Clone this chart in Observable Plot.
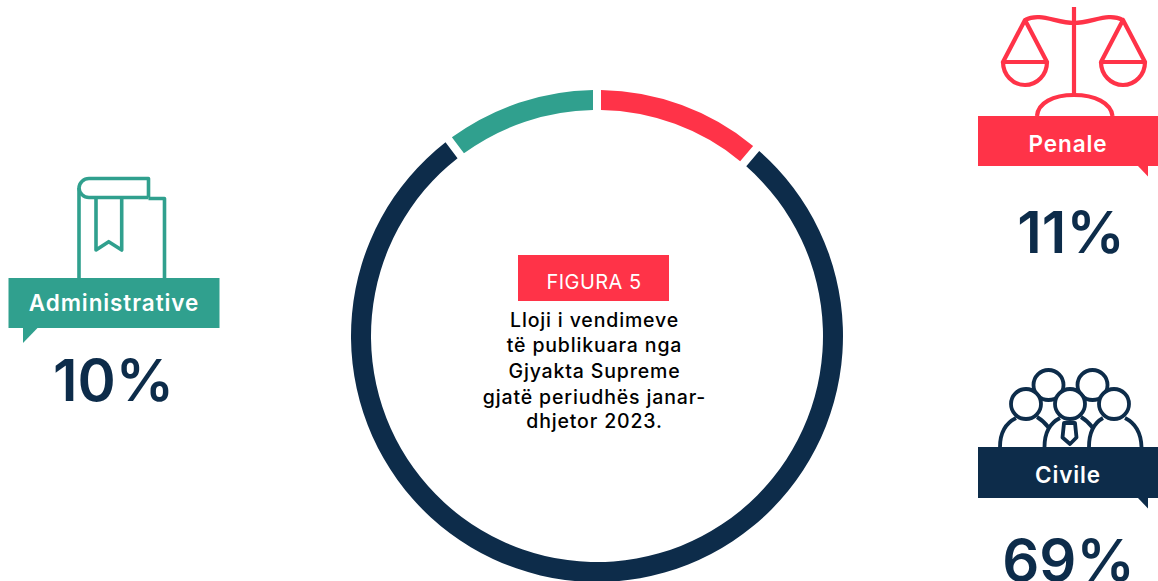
<!DOCTYPE html>
<html lang="sq">
<head>
<meta charset="utf-8">
<script src="https://cdn.jsdelivr.net/npm/d3@7"></script>
<script src="https://cdn.jsdelivr.net/npm/@observablehq/plot@0.6"></script>
<style>html,body{margin:0;padding:0;background:#fff;overflow:hidden}svg{display:block}
.banner text{letter-spacing:.9px}.body text{letter-spacing:.85px}.tag text{letter-spacing:.45px}</style>
</head>
<body>
<div id="chart"></div>
<script>
// Data
const categories = ["Penale", "Civile", "Administrative"];
const printedShares = ["11%", "69%", "10%"];       // as printed on the chart
const ringShares = [11.2, 78.5, 10.3];             // as drawn by the ring (angles)
const figureTag = "FIGURA 5";
const figureTitle = ["Lloji i vendimeve", "të publikuara nga", "Gjyakta Supreme", "gjatë periudhës janar-", "dhjetor 2023."];

// Styles
const RED = "#ff3348", NAVY = "#0d2c4a", TEAL = "#30a08e";
const colors = [RED, NAVY, TEAL];
const FONT = "Inter, 'Open Sans', sans-serif";

// Layout
const ring = {cx: 597, cy: 336, outer: 246, inner: 226, gap: 8};
const banners = [
  {x1: 978, x2: 1158, y1: 116, y2: 166, tail: [[1138,166],[1148,176.5],[1148,166]], tx: 1067.5, ty: 151.5, px: 1070.5, py: 252},
  {x1: 978, x2: 1158, y1: 447, y2: 498, tail: [[1138,498],[1148,508.5],[1148,498]], tx: 1067.5, ty: 482.5, px: 1068, py: 580},
  {x1: 8.5, x2: 219.5, y1: 278, y2: 328, tail: [[23,328],[37.5,328],[23,343]], tx: 113.5, ty: 310, px: 113, py: 400}
];
const rows = categories.map((name, i) => ({name, printed: printedShares[i], color: colors[i], ...banners[i]}));

const scaleIcon = [
  "M1074 7V95",
  "M1025 20C1040 12 1056 23 1074 23C1092 23 1108 12 1123 20",
  "M1025 20L1003 62H1047Z",
  "M1003 62A22 23 0 0 0 1047 62",
  "M1123 20L1101 62H1145Z",
  "M1101 62A22 23 0 0 0 1145 62",
  "M1037 116C1038 103 1053 95 1074 95C1095 95 1111 103 1112.5 116"
];
const bookIcon = [
  "M148.5 197.5V178.5H89A10 10 0 0 0 79 188V278",
  "M148.5 197.5H89A10 10 0 0 1 79 188",
  "M148.5 198.5H164.5V278",
  "M96 198V250L108.7 241.7L121.7 250V198"
];
const peopleBack = [[1048.5,385],[1092.5,385]];
const peopleFront = [[1026,404],[1070,404],[1114,404]];
const peopleIcon = [
  "M1000 447C1000 432 1006 423 1016 418",
  "M1037 417C1042 420 1046 424 1049 428",
  "M1044.5 447C1044.5 432 1050 423 1060 418",
  "M1081 417C1086 420 1090 424 1093 428",
  "M1089 447C1089 432 1094 423 1103 418",
  "M1125 418C1135 423 1141 432 1141.5 447",
  "M1064 423L1062.5 437.5L1070 444L1076.5 437.5L1075 423Z"
];

function iconMark(paths, color, width = 3.2, circles = []) {
  return (index, {x, y}) => {
    const g = d3.create("svg:g").attr("fill", "none").attr("stroke", color)
      .attr("stroke-width", width).attr("stroke-linejoin", "round");
    g.selectAll("path").data(paths).join("path").attr("d", d => d);
    g.selectAll("circle").data(circles).join("circle")
      .attr("cx", d => x(d[0])).attr("cy", d => y(d[1])).attr("r", 15).attr("fill", "#fff");
    return g.node();
  };
}

function ringMark(index, {x, y}) {
  const pie = d3.pie().sort(null)(ringShares);
  const arc = d3.arc().innerRadius(ring.inner).outerRadius(ring.outer)
    .padRadius(ring.outer).padAngle(ring.gap / ring.outer);
  const g = d3.create("svg:g").attr("transform", `translate(${x(ring.cx)},${y(ring.cy)})`);
  g.selectAll("path").data(pie).join("path").attr("d", arc).attr("fill", (d, i) => colors[i]);
  return g.node();
}

const titleRows = figureTitle.map((line, i) => ({line, y: [326, 351, 377, 403, 427][i]}));

const chart = Plot.plot({
  width: 1158, height: 581,
  margin: 0,
  style: {background: "#fff", fontFamily: FONT},
  x: {domain: [0, 1158], range: [0, 1158], axis: null},
  y: {domain: [0, 581], range: [0, 581], axis: null},
  marks: [
    ringMark,
    // icons sit behind the banners
    iconMark(scaleIcon, RED, 4.2),
    iconMark(bookIcon, TEAL, 3.6),
    iconMark([], NAVY, 3.8, peopleBack),
    iconMark(peopleIcon, NAVY, 3.8, peopleFront),
    // banners
    Plot.rect(rows, {x1: "x1", x2: "x2", y1: "y1", y2: "y2", fill: "color"}),
    (index, {x, y}) => {
      const g = d3.create("svg:g");
      g.selectAll("path").data(rows).join("path")
        .attr("fill", d => d.color)
        .attr("d", d => "M" + d.tail.map(p => [x(p[0]), y(p[1])].join(" ")).join("L") + "Z");
      return g.node();
    },
    Plot.text(rows, {x: "tx", y: "ty", text: "name", fill: "#fff", fontSize: 22.5, fontWeight: 600,
      textAnchor: "middle", lineAnchor: "bottom", className: "banner"}),
    Plot.text(rows, {x: "px", y: "py", text: "printed", fill: NAVY, fontSize: 58, fontWeight: 600,
      textAnchor: "middle", lineAnchor: "bottom"}),
    // centre
    Plot.rect([figureTag], {x1: 518, x2: 669, y1: 255, y2: 301, fill: RED}),
    Plot.text([figureTag], {x: 593.5, y: 288, text: d => d, fill: "#fff", fontSize: 20, fontWeight: 400,
      textAnchor: "middle", lineAnchor: "bottom", className: "tag"}),
    Plot.text(titleRows, {x: 594, y: "y", text: "line", fill: "#000", fontSize: 19.5, fontWeight: 500,
      textAnchor: "middle", lineAnchor: "bottom", className: "body"})
  ]
});
document.getElementById("chart").append(chart);
</script>
</body>
</html>
